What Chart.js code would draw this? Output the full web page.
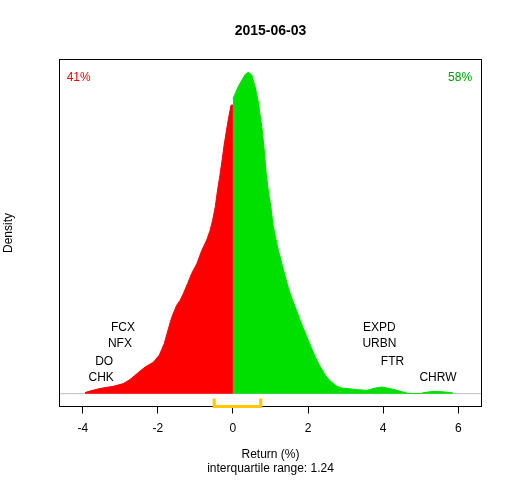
<!DOCTYPE html>
<html>
<head>
<meta charset="utf-8">
<script src="https://cdn.jsdelivr.net/npm/chart.js@4"></script>
<style>
  html, body { margin: 0; padding: 0; background: #fff; }
  #wrap { width: 512px; height: 480px; }
</style>
</head>
<body>
<div id="wrap"><canvas id="graph"></canvas></div>
<script>
// density of daily returns, split at zero
var leftX  = [-3.94, -3.81, -3.54, -3.19, -2.92, -2.74, -2.56, -2.34, -2.12, -1.96, -1.83, -1.72, -1.63, -1.50, -1.41, -1.32,
              -1.21, -1.10, -0.96, -0.83, -0.70, -0.61, -0.54, -0.47, -0.41, -0.36, -0.29, -0.235, -0.18, -0.12, -0.05, 0];
var leftY  = [0.0016, 0.004, 0.008, 0.0114, 0.0156, 0.022, 0.031, 0.0414, 0.049, 0.060, 0.078, 0.101, 0.119, 0.1375, 0.145, 0.156,
              0.171, 0.187, 0.2025, 0.223, 0.239, 0.254, 0.270, 0.291, 0.317, 0.335, 0.363, 0.387, 0.407, 0.428, 0.449, 0.449];
var rightX = [0, 0.06, 0.15, 0.24, 0.33, 0.41, 0.50, 0.59, 0.68, 0.74, 0.79, 0.84, 0.885, 0.95, 1.01, 1.06, 1.13, 1.21, 1.30,
              1.39, 1.48, 1.57, 1.69, 1.79, 1.88, 1.97, 2.08, 2.19, 2.33, 2.46, 2.59, 2.77, 2.90, 3.08, 3.30, 3.57, 3.79,
              3.97, 4.19, 4.37, 4.59, 4.67, 4.80, 5.00, 5.08, 5.35, 5.66, 5.86];
var rightY = [0.459, 0.467, 0.479, 0.488, 0.497, 0.500, 0.496, 0.478, 0.452, 0.426, 0.405, 0.374, 0.343, 0.3115, 0.291, 0.265, 0.244, 0.223, 0.2025,
              0.183, 0.1636, 0.148, 0.130, 0.114, 0.101, 0.088, 0.0726, 0.057, 0.0414, 0.0285, 0.0196, 0.0114, 0.0088, 0.0078, 0.0062, 0.0051, 0.0087,
              0.0103, 0.0078, 0.0051, 0.0016, 0.0005, 0.0002, 0.0002, 0.0016, 0.0036, 0.0025, 0.001];

var xTicks = [-4, -2, 0, 2, 4, 6];
var xRange = [-4.62, 6.62];
var yRange = [-0.02, 0.52];

var titleText = '2015-06-03';

// biggest movers, stacked top to bottom
var downNames = ['FCX', 'NFX', 'DO', 'CHK'];
var downX     = [-2.93, -3.01, -3.43, -3.51];
var upNames   = ['EXPD', 'URBN', 'FTR', 'CHRW'];
var upX       = [3.90, 3.90, 4.25, 5.46];
var labelY    = [0.103, 0.077, 0.050, 0.025];

var pctText = ['41%', '58%'];
var pctX    = [-4.11, 6.05];
var pctY    = 0.492;

var quartiles = [-0.50, 0.74];

var FONT = '"Liberation Sans", Arial, sans-serif';
Chart.defaults.font.family = FONT;
Chart.defaults.color = '#000';

function pts(xs, ys) {
  return xs.map(function(x, i) { return {x: x, y: ys[i]}; });
}

var rStyle = {
  id: 'rStyle',
  beforeDatasetsDraw: function(chart) {
    var ctx = chart.ctx, a = chart.chartArea;
    var y0 = chart.scales.y.getPixelForValue(0);
    ctx.save();
    ctx.strokeStyle = '#bebebe';
    ctx.lineWidth = 1;
    ctx.beginPath();
    ctx.moveTo(a.left, y0);
    ctx.lineTo(a.right, y0);
    ctx.stroke();
    ctx.restore();
  },
  afterDatasetsDraw: function(chart) {
    var ctx = chart.ctx, a = chart.chartArea;
    var xs = chart.scales.x, ys = chart.scales.y;
    ctx.save();
    // title centred over the plot region, as R does
    ctx.font = 'bold 14px ' + FONT;
    ctx.textAlign = 'center';
    ctx.textBaseline = 'middle';
    ctx.fillStyle = '#000';
    ctx.fillText(titleText, (a.left + a.right) / 2, 31.5);

    ctx.font = '12px ' + FONT;
    downNames.forEach(function(n, i) {
      ctx.fillText(n, xs.getPixelForValue(downX[i]), ys.getPixelForValue(labelY[i]));
    });
    upNames.forEach(function(n, i) {
      ctx.fillText(n, xs.getPixelForValue(upX[i]), ys.getPixelForValue(labelY[i]));
    });
    ctx.fillStyle = '#ff0000';
    ctx.fillText(pctText[0], xs.getPixelForValue(pctX[0]), ys.getPixelForValue(pctY));
    ctx.fillStyle = '#00a000';
    ctx.fillText(pctText[1], xs.getPixelForValue(pctX[1]), ys.getPixelForValue(pctY));

    // plot box
    ctx.strokeStyle = '#000';
    ctx.lineWidth = 1;
    ctx.strokeRect(a.left, a.top, a.right - a.left, a.bottom - a.top);

    // interquartile bracket
    var q1 = xs.getPixelForValue(quartiles[0]);
    var q3 = xs.getPixelForValue(quartiles[1]);
    var yb = ys.getPixelForValue(yRange[0]);
    ctx.strokeStyle = '#ffc800';
    ctx.lineWidth = 3;
    ctx.beginPath();
    ctx.moveTo(q1, yb - 8);
    ctx.lineTo(q1, yb);
    ctx.lineTo(q3, yb);
    ctx.lineTo(q3, yb - 8);
    ctx.stroke();
    ctx.restore();
  }
};

new Chart('graph', {
  type: 'line',
  data: {
    datasets: [{
      data: pts(leftX, leftY),
      backgroundColor: '#ff0000',
      borderColor: '#ff0000',
      borderWidth: 1,
      fill: 'origin',
      pointRadius: 0,
      tension: 0
    }, {
      data: pts(rightX, rightY),
      backgroundColor: '#00e000',
      borderColor: '#00e000',
      borderWidth: 1,
      fill: 'origin',
      pointRadius: 0,
      tension: 0
    }, {
      data: pts([0, 0], [0, leftY[leftY.length - 1]]),
      borderColor: '#ffffff',
      borderWidth: 1.5,
      fill: false,
      pointRadius: 0
    }]
  },
  options: {
    responsive: true,
    maintainAspectRatio: false,
    animation: false,
    layout: {padding: {left: 0, right: 30.5, top: 59.5, bottom: 0}},
    plugins: {
      legend: {display: false},
      tooltip: {enabled: false},
      title: {display: false}
    },
    scales: {
      x: {
        type: 'linear',
        min: xRange[0],
        max: xRange[1],
        afterBuildTicks: function(s) { s.ticks = xTicks.map(function(v) { return {value: v}; }); },
        afterFit: function(s) { s.height = 73.5; },
        grid: {drawOnChartArea: false, color: '#000', tickLength: 7},
        border: {display: false},
        ticks: {color: '#000', font: {size: 12}, padding: 8, maxRotation: 0, autoSkip: false},
        title: {
          display: true,
          text: ['Return (%)', 'interquartile range: 1.24'],
          color: '#000',
          font: {size: 12},
          padding: {top: 0, bottom: 4}
        }
      },
      y: {
        min: yRange[0],
        max: yRange[1],
        afterFit: function(s) { s.width = 59.5; },
        ticks: {display: false},
        grid: {display: false},
        border: {display: false},
        title: {
          display: true,
          text: 'Density',
          color: '#000',
          font: {size: 12},
          padding: {top: 1, bottom: 0}
        }
      }
    }
  },
  plugins: [rStyle]
});
</script>
</body>
</html>
